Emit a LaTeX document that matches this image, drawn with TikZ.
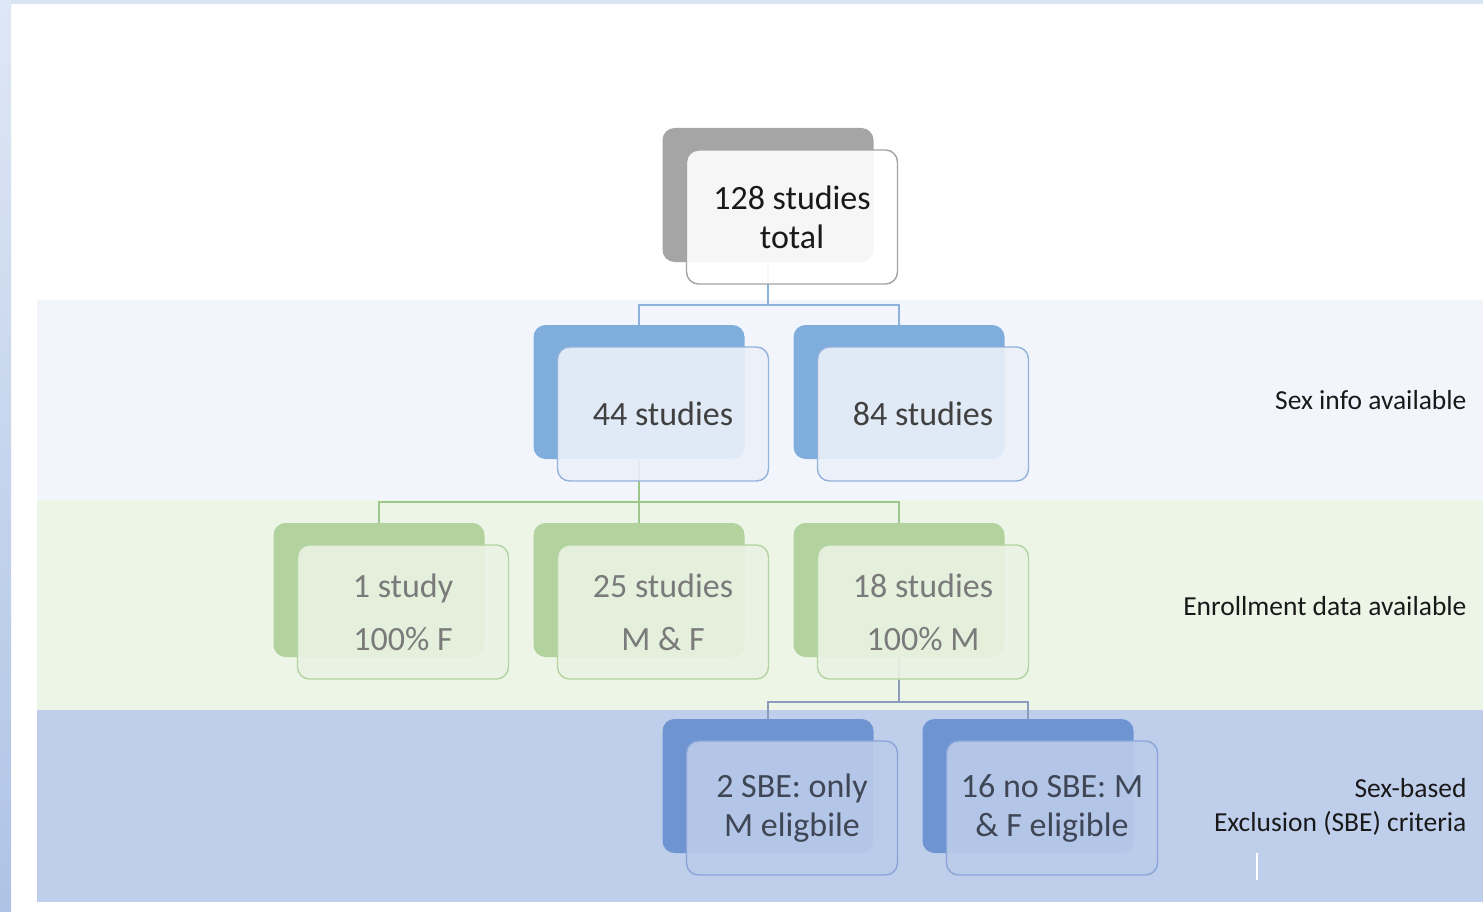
\documentclass[tikz,border=0pt]{standalone}
\usepackage{fontspec}
\setmainfont{Carlito}
\usepackage{tikz}
\usetikzlibrary{positioning,arrows.meta}

\definecolor{bandA}{HTML}{F2F6FC}
\definecolor{bandB}{HTML}{EDF5E7}
\definecolor{bandC}{HTML}{BFCFEB}
\definecolor{edgeTop}{HTML}{DAE4F3}
\definecolor{edgeLo}{HTML}{AEC3E5}
\definecolor{edgeHi}{HTML}{DEE7F5}
\definecolor{grayBack}{HTML}{A5A5A5}
\definecolor{grayFront}{HTML}{FFFFFF}
\definecolor{grayLine}{HTML}{A3A3A3}
\definecolor{blueBack}{HTML}{7FAEDD}
\definecolor{blueFront}{HTML}{EBF0F9}
\definecolor{blueLine}{HTML}{93B2DA}
\definecolor{greenBack}{HTML}{B2D29E}
\definecolor{greenFront}{HTML}{EAF3E3}
\definecolor{greenLine}{HTML}{B4D4A2}
\definecolor{deepBack}{HTML}{6F94D2}
\definecolor{deepFront}{HTML}{BBCCEB}
\definecolor{deepLine}{HTML}{89A5D8}
\definecolor{connA}{HTML}{8DB3DD}
\definecolor{connB}{HTML}{9DC78C}
\definecolor{connC}{HTML}{8C9CBC}

\begin{document}
\begin{tikzpicture}[x=1pt,y=-1pt,node distance=260pt,
	back/.style={rounded corners=12pt,minimum width=211pt,minimum height=134pt,inner sep=0pt},
	front/.style={back,draw,line width=1.4pt,fill opacity=0.9,text opacity=1,align=center,
		font=\fontsize{34}{39}\selectfont},
	conn/.style={line width=1.8pt},
	lbl/.style={anchor=east,align=right,text=black!90,font=\fontsize{27.5}{34}\selectfont}]
	
	\useasboundingbox (0,0) rectangle (1483,912);
	\fill[white] (0,0) rectangle (1483,912);
	
	% frame and bands
	\fill[edgeTop] (0,0) rectangle (1483,4);
	\shade[top color=edgeHi,bottom color=edgeLo] (0,0) rectangle (11,912);
	\fill[bandA] (37,300) rectangle (1483,500);
	\fill[bandB] (37,500) rectangle (1483,710);
	\fill[bandC] (37,710) rectangle (1483,902);
	\draw[white,line width=1.5pt] (1257,853) -- (1257,880);
	
	% back boxes
	\node[back,fill=grayBack] (b128) at (768,195) {};
	
	\node[back,fill=blueBack] (b44) at (639,392) {};
	\node[back,fill=blueBack,right of=b44] (b84) {};
	
	\node[back,fill=greenBack] (b1) at (379,590) {};
	\node[back,fill=greenBack,right of=b1] (b25) {};
	\node[back,fill=greenBack,right of=b25] (b18) {};
	
	\node[back,fill=deepBack] (b2) at (768,786) {};
	\node[back,fill=deepBack,right of=b2] (b16) {};
	
	% connectors
	\coordinate (j1) at (768,305);
	\coordinate (j2) at (639,502);
	\coordinate (j3) at (899,702);
	
	\draw[conn,connA] (b128.south) -- (j1) -| (b44.north);
	\draw[conn,connA] (j1) -| (b84.north);
	
	\draw[conn,connB] (b44.south) -- (j2) -| (b1.north);
	\draw[conn,connB] (j2) -- (b25.north);
	\draw[conn,connB] (j2) -| (b18.north);
	
	\draw[conn,connC] (b18.south) -- (j3) -| (b2.north);
	\draw[conn,connC] (j3) -| (b16.north);
	
	% front boxes
	\node[front,fill=grayFront,draw=grayLine,text=black!90,xshift=24pt,yshift=-22pt]
	(f128) at (b128)
	{128 studies\\total};
	
	\node[front,fill=blueFront,draw=blueLine,text=black!75,xshift=24pt,yshift=-22pt]
	(f44) at (b44)
	{44 studies};
	
	\node[front,fill=blueFront,draw=blueLine,text=black!75,xshift=24pt,yshift=-22pt]
	(f84) at (b84)
	{84 studies};
	
	\node[front,fill=greenFront,draw=greenLine,text=black!52,xshift=24pt,yshift=-22pt]
	(f1) at (b1)
	{1 study\\[14pt]100\% F};
	
	\node[front,fill=greenFront,draw=greenLine,text=black!52,xshift=24pt,yshift=-22pt]
	(f25) at (b25)
	{25 studies\\[14pt]M \& F};
	
	\node[front,fill=greenFront,draw=greenLine,text=black!52,xshift=24pt,yshift=-22pt]
	(f18) at (b18)
	{18 studies\\[14pt]100\% M};
	
	\node[front,fill=deepFront,draw=deepLine,text=connC!45!black,xshift=24pt,yshift=-22pt]
	(f2) at (b2)
	{2 SBE: only\\M eligbile};
	
	\node[front,fill=deepFront,draw=deepLine,text=connC!45!black,xshift=24pt,yshift=-22pt]
	(f16) at (b16)
	{16 no SBE: M\\\& F eligible};
	
	% band labels
	\node[lbl] (l1) at (1470,400) {Sex info available};
	\node[lbl] (l2) at (1470,606) {Enrollment data available};
	\node[lbl] (l3) at (1470,807) {Sex-based\\Exclusion (SBE) criteria};
	
\end{tikzpicture}
\end{document}
